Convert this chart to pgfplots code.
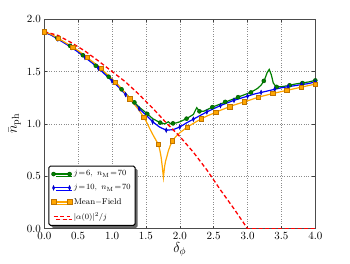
\documentclass[border=0pt]{standalone}
\usepackage{pgfplots}
\pgfplotsset{compat=1.18}
\usetikzlibrary{shadows}
\definecolor{mgreen}{rgb}{0,0.5,0}
\definecolor{mblue}{rgb}{0,0,1}
\definecolor{morange}{rgb}{1,0.65,0}
\definecolor{morangeedge}{rgb}{0.75,0.45,0}
\definecolor{mred}{rgb}{1,0,0}

\pgfplotstableread{
x y
0 1.875
0.1 1.85
0.2 1.815
0.3 1.775
0.4 1.735
0.5 1.69
0.6 1.64
0.7 1.59
0.8 1.535
0.9 1.48
1.0 1.42
1.1 1.36
1.2 1.29
1.3 1.225
1.4 1.16
1.5 1.107
1.6 1.05
1.7 1.015
1.78 1.0
1.83 1.02
1.87 1.0
1.95 1.01
2.0 1.02
2.1 1.05
2.2 1.09
2.25 1.155
2.29 1.12
2.35 1.12
2.4 1.135
2.5 1.165
2.6 1.19
2.7 1.215
2.8 1.24
2.9 1.265
3.0 1.29
3.1 1.32
3.15 1.34
3.2 1.37
3.25 1.42
3.29 1.49
3.32 1.52
3.35 1.47
3.38 1.39
3.42 1.355
3.5 1.355
3.6 1.365
3.7 1.38
3.8 1.39
3.9 1.40
4.0 1.415
}\greenline

\pgfplotstableread{
x y
0 1.875
0.19 1.82
0.38 1.745
0.57 1.655
0.76 1.555
0.95 1.45
1.14 1.33
1.33 1.205
1.52 1.095
1.71 1.012
1.90 1.005
2.10 1.05
2.29 1.12
2.48 1.16
2.67 1.21
2.86 1.255
3.05 1.30
3.24 1.41
3.43 1.353
3.62 1.368
3.81 1.39
4.0 1.415
}\greenmarks

\pgfplotstableread{
x y
0 1.875
0.1 1.848
0.2 1.81
0.3 1.77
0.4 1.73
0.5 1.685
0.6 1.635
0.7 1.585
0.8 1.53
0.9 1.47
1.0 1.41
1.1 1.35
1.2 1.28
1.3 1.21
1.4 1.145
1.5 1.085
1.6 1.02
1.7 0.97
1.8 0.94
1.9 0.945
2.0 0.97
2.1 1.01
2.2 1.045
2.3 1.08
2.4 1.115
2.5 1.145
2.6 1.175
2.7 1.20
2.8 1.225
2.9 1.245
3.0 1.265
3.1 1.285
3.2 1.30
3.3 1.315
3.4 1.33
3.5 1.345
3.6 1.355
3.7 1.365
3.8 1.375
3.9 1.385
4.0 1.40
}\blueline

\pgfplotstableread{
x y
0 1.88
0.1 1.855
0.2 1.82
0.3 1.78
0.4 1.74
0.5 1.70
0.6 1.65
0.7 1.60
0.8 1.55
0.9 1.49
1.0 1.43
1.1 1.365
1.2 1.29
1.3 1.21
1.4 1.13
1.46 1.07
1.5 1.03
1.56 0.95
1.6 0.90
1.635 0.86
1.67 0.82
1.694 0.78
1.71 0.735
1.725 0.68
1.74 0.60
1.758 0.49
1.775 0.59
1.79 0.645
1.81 0.69
1.83 0.74
1.86 0.795
1.897 0.846
1.95 0.885
2.0 0.915
2.1 0.965
2.2 1.005
2.32 1.05
2.4 1.075
2.53 1.11
2.6 1.13
2.74 1.165
2.8 1.18
2.95 1.21
3.0 1.22
3.16 1.255
3.37 1.29
3.58 1.32
3.79 1.35
4.0 1.38
}\orangeline

\pgfplotstableread{
x y
0 1.88
0.21 1.815
0.42 1.73
0.63 1.635
0.84 1.53
1.05 1.40
1.26 1.24
1.47 1.065
1.68 0.805
1.89 0.84
2.11 0.97
2.32 1.05
2.53 1.11
2.74 1.165
2.95 1.21
3.16 1.255
3.37 1.29
3.58 1.32
3.79 1.35
4.0 1.38
}\orangemarks

\pgfplotstableread{
x y
0 1.88
0.2 1.845
0.4 1.775
0.6 1.695
0.8 1.60
1.0 1.50
1.2 1.40
1.4 1.28
1.6 1.15
1.8 1.01
2.0 0.88
2.2 0.73
2.4 0.56
2.6 0.37
2.8 0.19
3.0 0.0
3.5 0.0
4.0 0.0
}\redline

\begin{document}
\begin{tikzpicture}
\useasboundingbox (-44.3pt,-35.3pt) rectangle (305.7pt,228.7pt);
\begin{axis}[
  at={(0pt,0pt)}, anchor=south west,
  scale only axis, width=271pt, height=209.6pt,
  xmin=0, xmax=4, ymin=0, ymax=2,
  xtick={0,0.5,1,1.5,2,2.5,3,3.5,4},
  ytick={0,0.5,1,1.5,2},
  xticklabel style={/pgf/number format/.cd, fixed, fixed zerofill, precision=1},
  yticklabel style={/pgf/number format/.cd, fixed, fixed zerofill, precision=1},
  tick label style={font=\fontsize{11}{12}\selectfont},
  tick align=inside, major tick length=3pt,
  tick style={black!75, line width=0.6pt},
  grid=major, major grid style={black!45, dotted, line width=0.5pt},
  axis line style={black!70, line width=1pt},
  xlabel={$\delta_\phi$}, ylabel={$\bar{n}_{\rm ph}$},
  label style={font=\fontsize{14.5}{16}\selectfont},
  xlabel style={yshift=4pt},
  ylabel style={yshift=-1pt},
  legend cell align=left,
  legend image code/.code={\draw[#1] plot coordinates {(0pt,0pt) (16pt,0pt)};},
  legend style={at={(0.015,0.014)}, anchor=south west, draw=black,
    line width=1pt, rounded corners=1.5pt, fill=white,
    drop shadow={shadow xshift=2.5pt, shadow yshift=-2.5pt, fill=black!60, opacity=1},
    font=\fontsize{8.4}{10}\selectfont, row sep=3pt, inner sep=2.5pt},
]
\addlegendimage{mgreen, line width=1.2pt, mark=*, mark size=2pt, mark options={fill=mgreen, draw=mgreen!70!black, solid, line width=0.5pt}}
\addlegendentry{$j\!=\!6,\ n_{\rm M}\!=\!70$}
\addlegendimage{mblue, line width=1.2pt, mark=diamond*, mark size=2.3pt, mark options={fill=mblue, draw=mblue!70!black, solid, xscale=0.6, line width=0.5pt}}
\addlegendentry{$j\!=\!10,\ n_{\rm M}\!=\!70$}
\addlegendimage{morange, line width=1.2pt, mark=square*, mark size=2.2pt, mark options={fill=morange, draw=morangeedge, solid, line width=0.5pt}}
\addlegendentry{Mean$-$Field}
\addlegendimage{mred, line width=1.3pt, dash pattern=on 4pt off 2.5pt}
\addlegendentry{$|\alpha(0)|^2/j$}

\addplot[mgreen, line width=1.2pt, forget plot] table {\greenline};
\addplot[only marks, mark=*, mark size=2pt, mark options={fill=mgreen, draw=mgreen!70!black, line width=0.5pt}, forget plot] table {\greenmarks};
\addplot[mblue, line width=1.2pt, forget plot, mark=diamond*, mark repeat=2, mark size=2.3pt, mark options={fill=mblue, draw=mblue!70!black, solid, xscale=0.6, line width=0.5pt}] table {\blueline};
\addplot[morange, line width=1.2pt, forget plot] table {\orangeline};
\addplot[only marks, mark=square*, mark size=2.2pt, mark options={fill=morange, draw=morangeedge, line width=0.5pt}, forget plot] table {\orangemarks};
\addplot[mred, line width=1.3pt, dash pattern=on 4pt off 2.5pt, forget plot] table {\redline};
\end{axis}
\end{tikzpicture}
\end{document}
